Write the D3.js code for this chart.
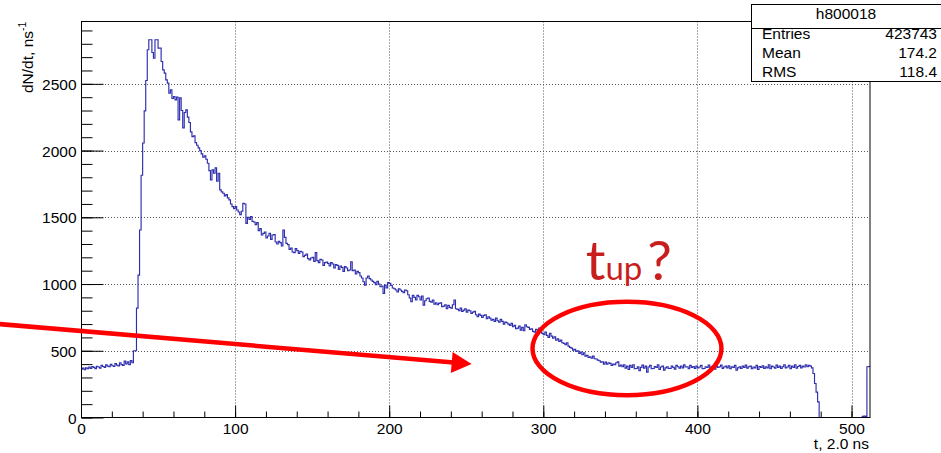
<!DOCTYPE html>
<html>
<head>
<meta charset="utf-8">
<script src="https://cdn.jsdelivr.net/npm/d3@7"></script>
<style>
  html, body { margin: 0; padding: 0; background: #fff; overflow: hidden; }
  text { font-family: "Liberation Sans", Arial, Helvetica, sans-serif; }
</style>
</head>
<body>
<svg id="chart" width="941" height="453"></svg>
<script>
// Histogram h800018: counts per 2 ns bin, 512 bins
const counts = [
  // 0-34 : pedestal before the pulse
  362, 370, 358, 372, 365, 378, 368, 382, 375, 366,
  384, 378, 370, 390, 382, 376, 394, 385, 380, 398,
  388, 382, 404, 392, 386, 410, 396, 390, 422, 402,
  418, 396, 426, 410, 500,
  // 35-39 : rising edge
  500, 820, 1067, 1405, 1815,
  // 40-
  2057, 2297, 2525, 2755, 2830, 2830, 2735, 2692, 2830, 2830,
  2767, 2767, 2667, 2605, 2580, 2530, 2505, 2430, 2455, 2390,
  2405, 2380, 2400, 2230, 2395, 2300, 2170, 2285, 2305, 2250,
  2210, 2140, 2105, 2110, 2060, 2040, 2020, 2000, 1975, 1950,
  1960, 1935, 1905, 1850, 1780, 1855, 1830, 1870, 1770, 1830,
  1705, 1690, 1680, 1660, 1670, 1645, 1630, 1600, 1580, 1565,
  1580, 1555, 1540, 1520, 1545, 1605, 1600, 1455, 1500, 1485,
  1505, 1470, 1465, 1445, 1460, 1400, 1415, 1367, 1380, 1390,
  1345, 1360, 1380, 1335, 1367, 1370, 1315, 1300, 1320, 1310,
  1285, 1405, 1350, 1305, 1295, 1260, 1270, 1240, 1235, 1265,
  1250, 1230, 1245, 1240, 1205, 1215, 1225, 1190, 1180, 1195,
  1200, 1170, 1235, 1175, 1160, 1185, 1180, 1140, 1160, 1165,
  1155, 1135, 1160, 1150, 1120, 1145, 1140, 1110, 1135, 1125,
  1095, 1130, 1120, 1100, 1105, 1167, 1100, 1105, 1075, 1095,
  1085, 1060, 1045, 1017,  992, 1045, 1060, 1040, 1030, 1020,
  1010,  995, 1020, 1000,  980,  985,  930,  992,  970, 1010,
  1005,  990,  970,  965,  955,  940,  965,  955,  945,  935,
   955,  950,  920,  895,  867,  915,  900,  880,  915,  905,
   880,  910,  842,  875,  890,  895,  870,  865,  880,  850,
   860,  845,  855,  860,  830,  835,  845,  815,  840,  825,
   820,  845,  880,  815,  810,  800,  820,  795,  805,  815,
   790,  805,  800,  780,  790,  795,  770,  755,  775,  765,
   750,  765,  770,  740,  755,  745,  730,  735,  720,  745,
   725,  715,  735,  720,  700,  715,  710,  700,  690,  705,
   680,  690,  665,  670,  685,  655,  675,  650,  695,  680,
   675,  660,  665,  645,  640,  660,  655,  670,  640,  630,
   620,  640,  615,  600,  630,  610,  595,  605,  580,  590,
   570,  580,  560,  555,  545,  560,  535,  525,  520,  505,
   510,  495,  500,  480,  490,  470,  485,  460,  465,  450,
   455,  445,  460,  440,  438,  430,  425,  415,  418,  400,
   415,  400,  410,  405,  390,  400,  395,  410,  417,  385,
   392,  380,  395,  370,  385,  360,  390,  375,  395,  365,
   367,  380,  350,  375,  392,  370,  385,  340,  378,  390,
   365,  367,  382,  375,  395,  360,  378,  385,  355,  372,
   380,  368,  367,  385,  375,  362,  390,  380,  370,  385,
   372,  395,  378,  380,  365,  390,  375,  382,  368,  385,
   372,  378,  390,  365,  367,  380,  375,  392,  370,  382,
   377,  362,  385,  375,  380,  392,  368,  378,  385,  372,
   388,  365,  380,  375,  390,  355,  372,  380,  368,  385,
   375,  392,  370,  380,  385,  365,  378,  372,  390,  360,
   382,  375,  388,  368,  380,  372,  395,  365,  385,  378,
   370,  392,  375,  385,  368,  380,  395,  372,  378,  390,
   365,  385,  375,  395,  370,  382,  390,  372,  385,  378,
   395,  380,  390,  385,  372,  330,  255,  190,  117,    0,
     0,    0,    0,    0,    0,    0,    0,    0,    0,    0,
     0,    0,    0,    0,    0,    0,    0,    0,    0,    0,
     0,    0,    0,    0,    0,    0,    0,    8,   10,    8,
   380,  382
];

const xMajorTicks = [0, 100, 200, 300, 400, 500];
const xMinorTicks = d3.range(0, 501, 20);
const yMajorTicks = [0, 500, 1000, 1500, 2000, 2500];
const yMinorTicks = d3.range(0, 2901, 100);

const histName = "h800018";
const statLabels = ["Entries", "Mean", "RMS"];
const statValues = ["423743", "174.2", "118.4"];
const xTitle = "t, 2.0 ns";
const yTitle = "dN/dt, ns";
const yTitleExp = "-1";

// annotation anchors, in data units
const arrowFrom = [-53, 700];
const arrowTo = [253.5, 400];
const ringCenter = [354.3, 517];
const ringRadius = [61.3, 350];
const noteAnchor = [327.5, 1030];

const svg = d3.select("#chart");
const frame = { left: 81, right: 870, top: 21.5, bottom: 417.5 };

const x = d3.scaleLinear().domain([0, 512]).range([frame.left, frame.right]);
const y = d3.scaleLinear().domain([0, 2967]).range([frame.bottom, frame.top]);

// grid
const grid = svg.append("g").attr("stroke", "#555").attr("stroke-dasharray", "1,2").attr("stroke-width", 1);
grid.selectAll("line.gx").data(xMajorTicks.filter(d => d > 0)).join("line")
  .attr("x1", d => Math.round(x(d)) + 0.5).attr("x2", d => Math.round(x(d)) + 0.5)
  .attr("y1", frame.top).attr("y2", frame.bottom);
grid.selectAll("line.gy").data(yMajorTicks.filter(d => d > 0)).join("line")
  .attr("x1", frame.left).attr("x2", frame.right)
  .attr("y1", d => Math.round(y(d)) + 0.5).attr("y2", d => Math.round(y(d)) + 0.5);

// histogram outline
const pts = counts.map((c, i) => [i, c]);
pts.push([512, counts[counts.length - 1]]);
const histLine = d3.line().x(d => x(d[0])).y(d => y(d[1])).curve(d3.curveStepAfter);
svg.append("path").datum(pts)
  .attr("d", histLine)
  .attr("fill", "none")
  .attr("stroke", "#2e2eae")
  .attr("stroke-width", 1.15);

// frame
svg.append("rect")
  .attr("x", frame.left + 0.5).attr("y", frame.top)
  .attr("width", frame.right - frame.left - 0.5).attr("height", frame.bottom - frame.top)
  .attr("fill", "none").attr("stroke", "#000").attr("stroke-width", 1);

// axes
const xAxis = d3.axisBottom(x).tickValues(xMajorTicks).tickSize(-12).tickPadding(18).tickFormat(d3.format("d"));
const xAxisMinor = d3.axisBottom(x).tickValues(xMinorTicks).tickSize(-6).tickFormat("");
const yAxis = d3.axisLeft(y).tickValues(yMajorTicks).tickSize(-22).tickPadding(28).tickFormat(d3.format("d"));
const yAxisMinor = d3.axisLeft(y).tickValues(yMinorTicks).tickSize(-11).tickFormat("");

function styleAxis(g) {
  g.select(".domain").remove();
  g.selectAll("line").attr("stroke", "#000");
  g.selectAll("text").attr("font-size", "15.5px").attr("fill", "#000")
    .attr("font-family", "'Liberation Sans', Arial, sans-serif");
}
svg.append("g").attr("transform", `translate(0,${frame.bottom})`).call(xAxisMinor).call(styleAxis);
svg.append("g").attr("transform", `translate(0,${frame.bottom})`).call(xAxis).call(styleAxis)
  .selectAll("text").attr("dy", "0.71em").attr("y", 5);
svg.append("g").attr("transform", `translate(${frame.left + 0.5},0)`).call(yAxisMinor).call(styleAxis);
svg.append("g").attr("transform", `translate(${frame.left + 0.5},0)`).call(yAxis).call(styleAxis)
  .selectAll("text").attr("x", -5).attr("dy", "0.36em");

// axis titles
svg.append("text")
  .attr("x", frame.right - 1).attr("y", 449)
  .attr("text-anchor", "end").attr("font-size", "15.5px")
  .text(xTitle);

const yt = svg.append("text")
  .attr("transform", "translate(32.5,93) rotate(-90)")
  .attr("font-size", "15.5px");
yt.append("tspan").text(yTitle);
yt.append("tspan").attr("dy", -7).attr("font-size", "10.5px").text(yTitleExp);

// statistics box
const box = svg.append("g");
box.append("rect").attr("x", 751.5).attr("y", 4.5).attr("width", 200).attr("height", 77)
  .attr("fill", "#fff").attr("stroke", "#000").attr("stroke-width", 1);
box.append("line").attr("x1", 751.5).attr("x2", 941).attr("y1", 28.5).attr("y2", 28.5).attr("stroke", "#000");
box.append("text").attr("x", 846).attr("y", 18.5).attr("text-anchor", "middle")
  .attr("font-size", "15.5px").text(histName);
statLabels.forEach((lab, i) => {
  const by = 38.5 + i * 19;
  box.append("text").attr("x", 762).attr("y", by).attr("font-size", "15.5px").text(lab);
  box.append("text").attr("x", 937).attr("y", by).attr("text-anchor", "end")
    .attr("font-size", "15.5px").text(statValues[i]);
});

// annotations
const red = "#ff0000";
const p0 = [x(arrowFrom[0]), y(arrowFrom[1])];
const p1 = [x(arrowTo[0]), y(arrowTo[1])];
const ang = Math.atan2(p1[1] - p0[1], p1[0] - p0[0]);
const headLen = 20, headHalf = 10.5;
const base = [p1[0] - headLen * Math.cos(ang), p1[1] - headLen * Math.sin(ang)];
svg.append("line")
  .attr("x1", p0[0]).attr("y1", p0[1]).attr("x2", base[0] + 2 * Math.cos(ang)).attr("y2", base[1] + 2 * Math.sin(ang))
  .attr("stroke", red).attr("stroke-width", 4.5);
svg.append("polygon")
  .attr("points", [
    p1,
    [base[0] + headHalf * Math.sin(ang), base[1] - headHalf * Math.cos(ang)],
    [base[0] - headHalf * Math.sin(ang), base[1] + headHalf * Math.cos(ang)]
  ].map(p => p.join(",")).join(" "))
  .attr("fill", red);

svg.append("ellipse")
  .attr("cx", x(ringCenter[0])).attr("cy", y(ringCenter[1]))
  .attr("rx", x(ringRadius[0]) - x(0)).attr("ry", y(0) - y(ringRadius[1]))
  .attr("fill", "none").attr("stroke", red).attr("stroke-width", 4.5);

const note = svg.append("text")
  .attr("x", x(noteAnchor[0])).attr("y", y(noteAnchor[1]))
  .attr("fill", "#c81e1e")
  .style("font-family", "Lato, 'Open Sans', sans-serif");
note.append("tspan").attr("font-size", "55px").text("t");
note.append("tspan").attr("font-size", "33px").text("up");
note.append("tspan").attr("font-size", "55px").attr("dx", 5).text("?");
</script>
</body>
</html>
